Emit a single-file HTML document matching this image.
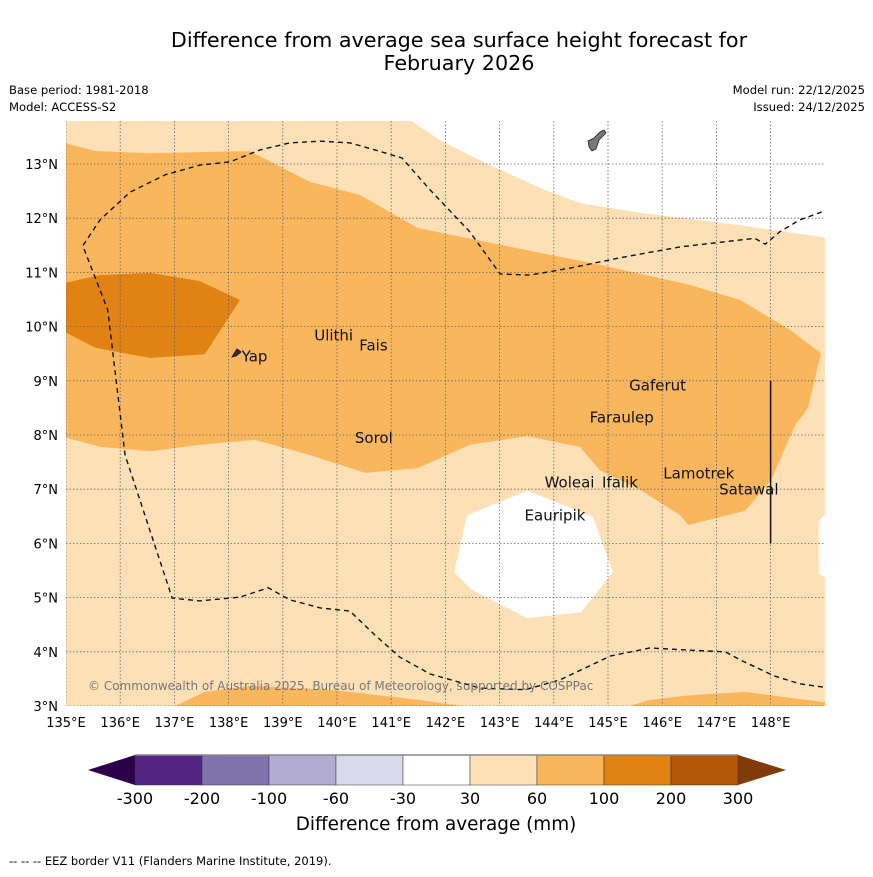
<!DOCTYPE html>
<html><head><meta charset="utf-8"><style>
body{margin:0;background:#fff;font-family:"DejaVu Sans","Liberation Sans",sans-serif}
svg text{font-family:"DejaVu Sans","Liberation Sans",sans-serif}
</style></head><body>
<svg id="s" width="873" height="873" viewBox="0 0 873 873" xmlns="http://www.w3.org/2000/svg">
<rect width="873" height="873" fill="#fff"/>
<text x="459" y="47" text-anchor="middle" font-size="20.7">Difference from average sea surface height forecast for</text>
<text x="459" y="70" text-anchor="middle" font-size="20.7">February 2026</text>
<text x="9" y="94" font-size="11.6">Base period: 1981-2018</text>
<text x="9" y="111" font-size="11.6">Model: ACCESS-S2</text>
<text x="865" y="94" font-size="11.6" text-anchor="end">Model run: 22/12/2025</text>
<text x="865" y="111" font-size="11.6" text-anchor="end">Issued: 24/12/2025</text>
<defs><clipPath id="mc"><rect x="66" y="121" width="759" height="585"/></clipPath></defs>
<g id="map" clip-path="url(#mc)"></g>
<g id="axes"></g>
<g id="cbar"></g>
<text x="436" y="830" text-anchor="middle" font-size="18.4">Difference from average (mm)</text>
<text x="9" y="865" font-size="11.5">-- -- -- EEZ border V11 (Flanders Marine Institute, 2019).</text>
</svg>
<script>
const lonTicks=[135,136,137,138,139,140,141,142,143,144,145,146,147,148];
const latTicks=[3,4,5,6,7,8,9,10,11,12,13];
const cbLevels=[-300,-200,-100,-60,-30,30,60,100,200,300];
const cbColors=["#522682","#8073ac","#b2abd2","#d8daeb","#ffffff","#fee0b6","#fab65d","#e08214","#b35806"];
const whiteTop=[[141.38,13.9],[141.38,13.79],[141.90,13.44],[142.82,12.98],[143.84,12.52],[144.48,12.28],[145.59,12.10],[147.44,11.87],[149.1,11.63],[149.1,13.9]];
const whiteBlob=[[142.40,6.52],[143.51,6.97],[144.72,6.49],[145.09,5.47],[144.50,4.73],[143.51,4.62],[142.49,5.14],[142.16,5.47]];
const whiteEdge=[[149.1,6.65],[148.89,6.41],[148.89,5.45],[149.1,5.3]];
const medMain=[[134.9,13.41],[135.54,13.24],[136.55,13.20],[138.39,13.24],[139.50,12.67],[140.42,12.43],[141.49,11.82],[143.01,11.51],[144.85,11.14],[146.51,10.77],[147.44,10.49],[148.36,9.94],[148.93,9.51],[148.69,8.50],[148.45,8.18],[148.01,7.17],[147.53,6.60],[146.48,6.34],[146.33,6.52],[145.59,6.99],[144.85,7.35],[144.48,7.78],[143.51,7.98],[142.45,7.82],[141.49,7.39],[140.52,7.30],[139.50,7.63],[138.49,7.91],[137.47,7.82],[136.55,7.70],[135.63,7.78],[134.9,7.98]];
const medBottomL=[[137.01,2.9],[137.01,3.0],[137.56,3.26],[138.39,3.37],[139.87,3.30],[141.53,3.11],[143.01,2.9]];
const medBottomR=[[145.07,2.9],[145.77,3.11],[146.51,3.20],[147.53,3.26],[148.36,3.15],[149.1,3.06],[149.1,2.9]];
const darkPatch=[[134.9,10.79],[135.63,10.95],[136.55,10.99],[137.47,10.84],[138.21,10.49],[137.56,9.49],[136.55,9.42],[135.54,9.61],[134.9,9.94]];
const eez=[[149.1,12.17],[148.54,11.97],[148.17,11.75],[147.90,11.52],[147.71,11.63],[146.33,11.47],[145.22,11.27],[144.30,11.08],[143.56,10.95],[143.01,10.97],[142.45,11.75],[141.72,12.52],[141.20,13.11],[140.70,13.26],[140.24,13.39],[139.69,13.42],[139.13,13.39],[138.58,13.26],[138.03,13.04],[137.47,12.98],[136.83,12.80],[136.18,12.48],[135.63,11.97],[135.31,11.49],[135.77,10.31],[136.09,7.63],[136.96,4.99],[137.47,4.94],[138.21,5.01],[138.73,5.18],[139.13,4.96],[139.69,4.81],[140.24,4.75],[140.70,4.31],[141.16,3.90],[141.72,3.59],[142.64,3.33],[143.47,3.30],[144.11,3.48],[145.04,3.92],[145.77,4.07],[146.51,4.03],[147.16,4.00],[147.44,3.85],[148.08,3.55],[148.54,3.41],[149.1,3.33]];
const places=["Ulithi","Fais","Yap","Gaferut","Faraulep","Sorol","Woleai","Ifalik","Eauripik","Lamotrek","Satawal"];
const placeLon=[139.58,140.41,138.24,145.39,144.66,140.33,143.83,144.89,143.46,146.02,147.05];
const placeLat=[9.80,9.61,9.41,8.88,8.29,7.91,7.09,7.09,6.48,7.25,6.96];
const X=lon=>66+(lon-135)*54.2, Y=lat=>706-(lat-3)*54.2;
const NS="http://www.w3.org/2000/svg";
function mk(t,a,p){const e=document.createElementNS(NS,t);for(const k in a)e.setAttribute(k,a[k]);p.appendChild(e);return e;}
const map=document.getElementById('map'),axes=document.getElementById('axes'),cb=document.getElementById('cbar');
const pts=a=>a.map(p=>X(p[0]).toFixed(1)+','+Y(p[1]).toFixed(1)).join(' ');
let e=mk('rect',{x:66,y:121,width:759,height:585,fill:"#fee0b6"},map);


function poly(arr,fill,name){const p=mk('polygon',{points:pts(arr),fill:fill},map);

}
poly(whiteTop,"#ffffff","contour-white-north");
poly(whiteBlob,"#ffffff","contour-white-eauripik");
poly(whiteEdge,"#ffffff","contour-white-edge");
poly(medMain,"#fab65d","contour-60-100");
poly(medBottomL,"#fab65d","contour-60-100-south-west");
poly(medBottomR,"#fab65d","contour-60-100-south-east");
poly(darkPatch,"#e08214","contour-100-200");
lonTicks.forEach(l=>{const g=mk('line',{x1:X(l),x2:X(l),y1:121,y2:706,stroke:"#666","stroke-width":0.8,"stroke-dasharray":"1.5,2"},map);

});
latTicks.forEach(l=>{const g=mk('line',{x1:66,x2:825,y1:Y(l),y2:Y(l),stroke:"#666","stroke-width":0.8,"stroke-dasharray":"1.5,2"},map);

});
const ez=mk('polyline',{points:pts(eez),fill:"none",stroke:"#111","stroke-width":1.4,"stroke-dasharray":"5,4"},map);


const vl=mk('line',{x1:X(148),x2:X(148),y1:Y(9),y2:Y(6),stroke:"#111","stroke-width":1.5},map);


const guam=mk('path',{d:"M588,141 L594,138 L600,132 L604,130 L606,133 L599,140 L596,149 L592,151 L589,147 Z",fill:"#777",stroke:"#222","stroke-width":0.8},map);


const yap=mk('path',{d:"M232,357 L237,349 L241,352 L236,356 Z",fill:"#333",stroke:"#111","stroke-width":0.8},map);


places.forEach((n,i)=>{const t=mk('text',{x:X(placeLon[i]),y:Y(placeLat[i])+3,"font-size":15,fill:"#111"},map);t.textContent=n;

});
const cp=mk('text',{x:88,y:690,"font-size":12,fill:"#777"},map);cp.textContent="© Commonwealth of Australia 2025, Bureau of Meteorology, supported by COSPPac";


lonTicks.forEach(l=>{const t=mk('text',{x:X(l),y:727,"font-size":13,"text-anchor":"middle"},axes);t.textContent=l+"°E";

});
latTicks.forEach(l=>{const t=mk('text',{x:58,y:Y(l)+5,"font-size":13,"text-anchor":"end"},axes);t.textContent=l+"°N";

});
const cx0=135,cx1=738,cy=755,ch=30,n=cbColors.length,sw=(cx1-cx0)/n;
const lt=mk('polygon',{points:`${cx0},${cy} 88,${cy+ch/2} ${cx0},${cy+ch}`,fill:"#2d004b"},cb);


const rt=mk('polygon',{points:`${cx1},${cy} 786,${cy+ch/2} ${cx1},${cy+ch}`,fill:"#7f3b08"},cb);


cbColors.forEach((c,i)=>{const r=mk('rect',{x:cx0+i*sw,y:cy,width:sw,height:ch,fill:c,stroke:"#333","stroke-width":0.5},cb);

});
mk('line',{x1:cx0,x2:cx1,y1:cy,y2:cy,stroke:"#888","stroke-width":1.5},cb);
cbLevels.forEach((v,i)=>{const t=mk('text',{x:cx0+i*sw,y:804,"font-size":16,"text-anchor":"middle"},cb);t.textContent=v;

});
</script>
</body></html>
